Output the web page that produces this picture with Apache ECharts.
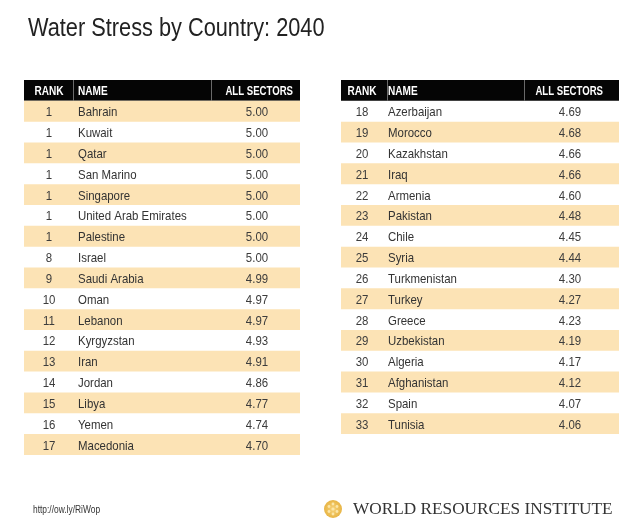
<!DOCTYPE html>
<html><head><meta charset="utf-8">
<script src="https://cdn.jsdelivr.net/npm/echarts@6/dist/echarts.min.js"></script>
<style>html,body{margin:0;padding:0;background:#fff}#chart{width:640px;height:532px}</style>
</head><body><div id="chart"></div>
<script>
// ---- data ----
const titleText = 'Water Stress by Country: 2040';
const headers = ['RANK', 'NAME', 'ALL SECTORS'];
const ranks = [1, 1, 1, 1, 1, 1, 1, 8, 9, 10, 11, 12, 13, 14, 15, 16, 17,
  18, 19, 20, 21, 22, 23, 24, 25, 26, 27, 28, 29, 30, 31, 32, 33];
const countries = ['Bahrain', 'Kuwait', 'Qatar', 'San Marino', 'Singapore', 'United Arab Emirates',
  'Palestine', 'Israel', 'Saudi Arabia', 'Oman', 'Lebanon', 'Kyrgyzstan', 'Iran', 'Jordan', 'Libya',
  'Yemen', 'Macedonia',
  'Azerbaijan', 'Morocco', 'Kazakhstan', 'Iraq', 'Armenia', 'Pakistan', 'Chile', 'Syria',
  'Turkmenistan', 'Turkey', 'Greece', 'Uzbekistan', 'Algeria', 'Afghanistan', 'Spain', 'Tunisia'];
const scores = [5.00, 5.00, 5.00, 5.00, 5.00, 5.00, 5.00, 5.00, 4.99, 4.97, 4.97, 4.93, 4.91, 4.86,
  4.77, 4.74, 4.70,
  4.69, 4.68, 4.66, 4.66, 4.60, 4.48, 4.45, 4.44, 4.30, 4.27, 4.23, 4.19, 4.17, 4.12, 4.07, 4.06];
const leftCount = 17;
const sourceText = 'http://ow.ly/RiWop';
const orgText = 'WORLD RESOURCES INSTITUTE';

// ---- styles ----
const FONT = '"Liberation Sans","Arial","Helvetica",sans-serif';
const BAND = '#fce3b5';
const TXT = '#333333';
const NARROW = 0.88;

function txt(text, x, y, font, fill, align, sx) {
  return { type: 'text', x: x, y: y, scaleX: sx,
    style: { text: text, x: 0, y: 0, font: font, fill: fill, align: align, verticalAlign: 'middle' } };
}

function buildTable(start, end) {
  const cats = ['__header'].concat(countries.slice(start, end));
  const rows = cats.map((c, i) => i === 0 ? null : {
    g: start + i - 1, rank: ranks[start + i - 1], name: countries[start + i - 1], score: scores[start + i - 1]
  });
  return { cats, rows, data: cats.map((c, i) => [0.5, i]) };
}
const leftT = buildTable(0, leftCount);
const rightT = buildTable(leftCount, countries.length);

function makeRender(tbl, cols) {
  return function (params, api) {
    const i = api.value(1);
    const c = api.coord([0.5, i]);
    const h = api.size([0, 1])[1];
    const x0 = params.coordSys.x, w = params.coordSys.width;
    const top = c[1] - h / 2, cy = c[1];
    const ch = [];
    if (i === 0) {
      ch.push({ type: 'rect', shape: { x: x0, y: top, width: w, height: h }, style: { fill: '#050505' } });
      [cols.div1, cols.div2].forEach(d => ch.push({ type: 'line',
        shape: { x1: x0 + d + 0.5, y1: top, x2: x0 + d + 0.5, y2: top + h },
        style: { stroke: '#6a6a6a', lineWidth: 1 } }));
      const hf = 'bold 12px ' + FONT;
      ch.push(txt(headers[0], x0 + cols.rankX, cy + 1.3, hf, '#fff', 'center', 0.84));
      ch.push(txt(headers[1], x0 + cols.nameX, cy + 1.3, hf, '#fff', 'left', 0.84));
      ch.push(txt(headers[2], x0 + cols.headRight, cy + 1.3, hf, '#fff', 'right', 0.8));
    } else {
      const r = tbl.rows[i];
      if (r.g % 2 === 0) ch.push({ type: 'rect', shape: { x: x0, y: top, width: w, height: h }, style: { fill: BAND } });
      const f = '13px ' + FONT;
      ch.push(txt(String(r.rank), x0 + cols.rankX, cy + 1.5, f, '#3c3c3c', 'center', NARROW));
      ch.push(txt(r.name, x0 + cols.nameX, cy + 1.5, f, TXT, 'left', NARROW));
      ch.push(txt(r.score.toFixed(2), x0 + cols.valX, cy + 1.5, f, '#3c3c3c', 'center', NARROW));
    }
    return { type: 'group', children: ch };
  };
}

const leftCols = { rankX: 25, nameX: 54, valX: 233, headRight: 269, div1: 49, div2: 187 };
const rightCols = { rankX: 21, nameX: 47, valX: 229, headRight: 262, div1: 46, div2: 183 };
const ROWH = 20.83;

const chart = echarts.init(document.getElementById('chart'), null, { renderer: 'canvas' });
chart.setOption({
  backgroundColor: '#ffffff',
  animation: false,
  grid: [
    { left: 24, top: 80, width: 276, height: ROWH * leftT.cats.length },
    { left: 341, top: 80, width: 278, height: ROWH * rightT.cats.length }
  ],
  xAxis: [
    { type: 'value', gridIndex: 0, min: 0, max: 1, show: false },
    { type: 'value', gridIndex: 1, min: 0, max: 1, show: false }
  ],
  yAxis: [
    { type: 'category', gridIndex: 0, data: leftT.cats, inverse: true, show: false },
    { type: 'category', gridIndex: 1, data: rightT.cats, inverse: true, show: false }
  ],
  series: [
    { type: 'custom', xAxisIndex: 0, yAxisIndex: 0, data: leftT.data, renderItem: makeRender(leftT, leftCols), silent: true },
    { type: 'custom', xAxisIndex: 1, yAxisIndex: 1, data: rightT.data, renderItem: makeRender(rightT, rightCols), silent: true }
  ],
  graphic: [
    { type: 'text', x: 28, y: 29.5, scaleX: 0.87,
      style: { text: titleText, x: 0, y: 0, font: '25px ' + FONT, fill: '#222', align: 'left', verticalAlign: 'middle' } },
    { type: 'text', x: 33, y: 510, scaleX: 0.8,
      style: { text: sourceText, x: 0, y: 0, font: '10.5px ' + FONT, fill: '#333', align: 'left', verticalAlign: 'middle' } },
    { type: 'group', x: 324, y: 500, children: [
      { type: 'circle', shape: { cx: 9, cy: 9, r: 9 }, style: { fill: new echarts.graphic.RadialGradient(0.5, 0.5, 0.5, [
        { offset: 0, color: '#f6d27a' }, { offset: 1, color: '#e8b545' }]) } },
      { type: 'circle', shape: { cx: 9, cy: 9, r: 1.6 }, style: { fill: '#fbe6a8' } },
      { type: 'circle', shape: { cx: 5, cy: 6.5, r: 1.4 }, style: { fill: '#fbe6a8' } },
      { type: 'circle', shape: { cx: 13, cy: 6.5, r: 1.4 }, style: { fill: '#fbe6a8' } },
      { type: 'circle', shape: { cx: 5, cy: 11.5, r: 1.4 }, style: { fill: '#fbe6a8' } },
      { type: 'circle', shape: { cx: 13, cy: 11.5, r: 1.4 }, style: { fill: '#fbe6a8' } },
      { type: 'circle', shape: { cx: 9, cy: 4, r: 1.4 }, style: { fill: '#fbe6a8' } },
      { type: 'circle', shape: { cx: 9, cy: 14, r: 1.4 }, style: { fill: '#fbe6a8' } }
    ] },
    { type: 'text', x: 353, y: 510, scaleX: 1.045,
      style: { text: orgText, x: 0, y: 0, font: '16.5px "Liberation Serif","DejaVu Serif",serif', fill: '#333', align: 'left', verticalAlign: 'middle' } }
  ]
});
</script>
</body></html>
